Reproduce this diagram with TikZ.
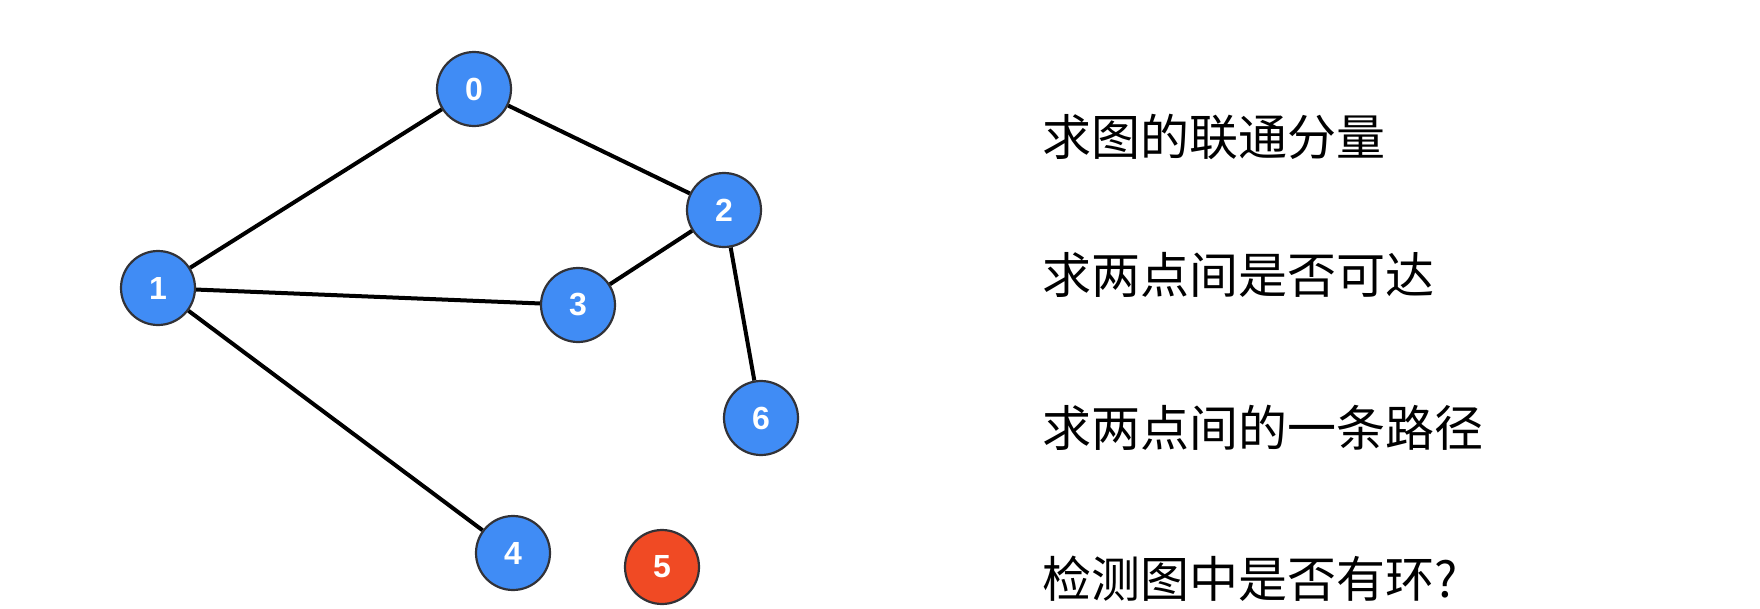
\documentclass[tikz,border=0pt]{standalone}
\usepackage{fontspec}
\setsansfont{Liberation Sans}
\newfontfamily\cjk{Noto Sans CJK SC}
\definecolor{nodeblue}{RGB}{64,140,245}
\definecolor{nodered}{RGB}{240,74,36}
\definecolor{nodeedge}{RGB}{50,50,55}
\begin{document}
\begin{tikzpicture}[x=1pt,y=-1pt,
  vert/.style={circle,draw=nodeedge,line width=2.2pt,fill=nodeblue,minimum size=74pt,inner sep=0pt,
    text=white,font=\sffamily\bfseries\fontsize{32}{32}\selectfont},
  redvert/.style={vert,fill=nodered},
  link/.style={line width=4pt,black},
  label/.style={anchor=west,inner sep=0pt,font=\cjk\fontsize{49}{49}\selectfont}]
\useasboundingbox (0,0) rectangle (1760,608);
\node[vert] (n0) at (474,89) {0};
\node[vert] (n1) at (158,288) {1};
\node[vert] (n2) at (724,210) {2};
\node[vert] (n3) at (578,305) {3};
\node[vert] (n4) at (513,553) {4};
\node[redvert] (n5) at (662,567) {5};
\node[vert] (n6) at (761,418) {6};
\draw[link] (n0) -- (n1);
\draw[link] (n0) -- (n2);
\draw[link] (n1) -- (n3);
\draw[link] (n2) -- (n3);
\draw[link] (n2) -- (n6);
\draw[link] (n1) -- (n4);
\node[label] (t1) at (1042,137) {求图的联通分量};
\node[label] (t2) at (1042,275) {求两点间是否可达};
\node[label] (t3) at (1042,428) {求两点间的一条路径};
\node[label] (t4) at (1042,579) {检测图中是否有环?};
\end{tikzpicture}
\end{document}
